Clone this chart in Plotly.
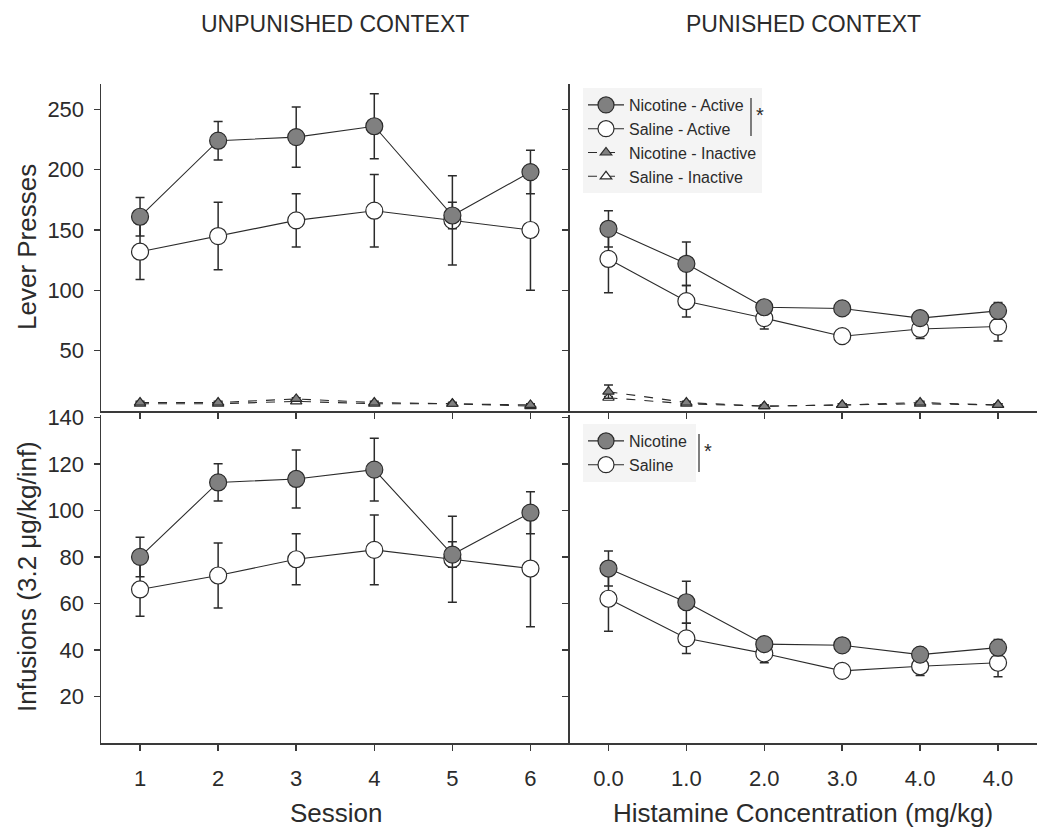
import plotly.graph_objects as go

# ---------------- data ----------------
sessions = [1, 2, 3, 4, 5, 6]
session_labels = ["1", "2", "3", "4", "5", "6"]
conc_pos = [0, 1, 2, 3, 4, 5]
conc_labels = ["0.0", "1.0", "2.0", "3.0", "4.0", "4.0"]

# Lever presses - unpunished context
lp_nic_act_unp = [161, 224, 227, 236, 162, 198]
lp_nic_act_unp_se = [16, 16, 25, 27, 11, 18]
lp_sal_act_unp = [132, 145, 158, 166, 158, 150]
lp_sal_act_unp_se = [23, 28, 22, 30, 37, 50]
lp_nic_inact_unp = [7, 7, 10, 7, 6, 5]
lp_nic_inact_unp_se = [1, 1, 1, 1, 1, 1]
lp_sal_inact_unp = [6, 6, 8, 6, 6, 4]
lp_sal_inact_unp_se = [1, 1, 1, 1, 1, 1]

# Lever presses - punished context
lp_nic_act_pun = [151, 122, 86, 85, 77, 83]
lp_nic_act_pun_se = [15, 18, 4, 3, 3, 7]
lp_sal_act_pun = [126, 91, 77, 62, 68, 70]
lp_sal_act_pun_se = [28, 13, 9, 5, 8, 12]
lp_nic_inact_pun = [16, 7, 4, 5, 7, 5]
lp_nic_inact_pun_se = [5.5, 1, 1, 1, 1, 1]
lp_sal_inact_pun = [11, 6, 4, 5, 6, 5]
lp_sal_inact_pun_se = [1, 1, 1, 1, 1, 1]

# Infusions - unpunished context
inf_nic_unp = [80, 112, 113.5, 117.5, 81, 99]
inf_nic_unp_se = [8.5, 8, 12.5, 13.5, 5.5, 9]
inf_sal_unp = [66, 72, 79, 83, 79, 75]
inf_sal_unp_se = [11.5, 14, 11, 15, 18.5, 25]

# Infusions - punished context
inf_nic_pun = [75, 60.5, 42.5, 42, 38, 41]
inf_nic_pun_se = [7.5, 9, 2, 2, 2, 3.5]
inf_sal_pun = [62, 45, 38.5, 31, 33, 34.5]
inf_sal_pun_se = [14, 6.5, 4, 2.5, 4, 6]

# ---------------- style ----------------
FONT = "Liberation Sans, Arial, sans-serif"
INK = "#2b2b2b"
AX = "#3a3a3a"
GRAY = "#808080"
LEG_BG = "#f4f4f4"
W, H = 1050, 835
CIRC = 17
TRI = 10


def px(x):
    return x / W


def py(y):
    return 1 - y / H


def trace(x, y, se, name, fill, symbol, size, dash, xa, ya, legend, show, rank):
    return go.Scatter(
        x=x, y=y, name=name, mode="lines+markers",
        xaxis=xa, yaxis=ya, legend=legend, showlegend=show, legendrank=rank,
        line=dict(color=INK, width=1.1, dash=dash),
        marker=dict(symbol=symbol, size=size, color=fill,
                    line=dict(color=INK, width=1.2)),
        error_y=dict(type="data", array=se, visible=True,
                     color=INK, thickness=1.5, width=4.5),
    )


fig = go.Figure()

# top-left: lever presses, unpunished
fig.add_trace(trace(sessions, lp_sal_inact_unp, lp_sal_inact_unp_se, "Saline - Inactive", "white", "triangle-up", TRI, "dash", "x", "y", "legend", False, 4))
fig.add_trace(trace(sessions, lp_nic_inact_unp, lp_nic_inact_unp_se, "Nicotine - Inactive", GRAY, "triangle-up", TRI, "dash", "x", "y", "legend", False, 3))
fig.add_trace(trace(sessions, lp_sal_act_unp, lp_sal_act_unp_se, "Saline - Active", "white", "circle", CIRC, "solid", "x", "y", "legend", False, 2))
fig.add_trace(trace(sessions, lp_nic_act_unp, lp_nic_act_unp_se, "Nicotine - Active", GRAY, "circle", CIRC, "solid", "x", "y", "legend", False, 1))

# top-right: lever presses, punished
fig.add_trace(trace(conc_pos, lp_sal_inact_pun, lp_sal_inact_pun_se, "Saline - Inactive", "white", "triangle-up", TRI, "dash", "x2", "y2", "legend", True, 4))
fig.add_trace(trace(conc_pos, lp_nic_inact_pun, lp_nic_inact_pun_se, "Nicotine - Inactive", GRAY, "triangle-up", TRI, "dash", "x2", "y2", "legend", True, 3))
fig.add_trace(trace(conc_pos, lp_sal_act_pun, lp_sal_act_pun_se, "Saline - Active", "white", "circle", CIRC, "solid", "x2", "y2", "legend", True, 2))
fig.add_trace(trace(conc_pos, lp_nic_act_pun, lp_nic_act_pun_se, "Nicotine - Active", GRAY, "circle", CIRC, "solid", "x2", "y2", "legend", True, 1))

# bottom-left: infusions, unpunished
fig.add_trace(trace(sessions, inf_sal_unp, inf_sal_unp_se, "Saline", "white", "circle", CIRC, "solid", "x3", "y3", "legend2", False, 2))
fig.add_trace(trace(sessions, inf_nic_unp, inf_nic_unp_se, "Nicotine", GRAY, "circle", CIRC, "solid", "x3", "y3", "legend2", False, 1))

# bottom-right: infusions, punished
fig.add_trace(trace(conc_pos, inf_sal_pun, inf_sal_pun_se, "Saline", "white", "circle", CIRC, "solid", "x4", "y4", "legend2", True, 2))
fig.add_trace(trace(conc_pos, inf_nic_pun, inf_nic_pun_se, "Nicotine", GRAY, "circle", CIRC, "solid", "x4", "y4", "legend2", True, 1))

xL = [px(101), px(569.5)]
xR = [px(569.5), px(1037)]
yT = [py(411), py(84)]
yB = [py(743), py(415)]

common = dict(showline=True, linecolor=AX, linewidth=1.5, ticks="outside",
              ticklen=6, tickwidth=1.5, tickcolor=AX, showgrid=False,
              zeroline=False, automargin=False,
              tickfont=dict(family=FONT, size=22, color=INK))

LEGEND_COMMON = dict(xanchor="left", yanchor="top", bgcolor="rgba(0,0,0,0)",
                     borderwidth=0, tracegroupgap=0, itemwidth=36,
                     font=dict(family=FONT, size=16, color=INK),
                     traceorder="normal")

fig.update_layout(
    width=W, height=H,
    margin=dict(l=0, r=0, t=0, b=0),
    paper_bgcolor="white", plot_bgcolor="white",
    font=dict(family=FONT, color=INK),
    hovermode=False,
    xaxis=dict(domain=xL, anchor="y", range=[0.5, 6.5], tickvals=sessions,
               showticklabels=False, **common),
    yaxis=dict(domain=yT, anchor="x", range=[0, 271],
               tickvals=[50, 100, 150, 200, 250], ticklabelstandoff=5, **common),
    xaxis2=dict(domain=xR, anchor="y2", range=[-0.5, 5.5], tickvals=conc_pos,
                showticklabels=False, **common),
    yaxis2=dict(domain=yT, anchor="x2", range=[0, 271],
                tickvals=[50, 100, 150, 200, 250], showticklabels=False, **common),
    xaxis3=dict(domain=xL, anchor="y3", range=[0.5, 6.5], tickvals=sessions,
                ticktext=session_labels, ticklabelstandoff=9, **common),
    yaxis3=dict(domain=yB, anchor="x3", range=[0, 141],
                tickvals=[20, 40, 60, 80, 100, 120, 140], ticklabelstandoff=5, **common),
    xaxis4=dict(domain=xR, anchor="y4", range=[-0.5, 5.5], tickvals=conc_pos,
                ticktext=conc_labels, ticklabelstandoff=9, **common),
    yaxis4=dict(domain=yB, anchor="x4", range=[0, 141],
                tickvals=[20, 40, 60, 80, 100, 120, 140], showticklabels=False, **common),
    legend=dict(x=px(583), y=py(88), **LEGEND_COMMON),
    legend2=dict(x=px(583), y=py(424), **LEGEND_COMMON),
)

# legend background panels (drawn beneath everything)
fig.add_shape(type="rect", xref="paper", yref="paper", layer="below",
              x0=px(583), x1=px(762), y0=py(193), y1=py(88),
              line=dict(width=0), fillcolor=LEG_BG)
fig.add_shape(type="rect", xref="paper", yref="paper", layer="below",
              x0=px(583), x1=px(696), y0=py(482), y1=py(424),
              line=dict(width=0), fillcolor=LEG_BG)

# significance brackets (group the two active / two infusion entries)
fig.add_shape(type="line", xref="paper", yref="paper",
              x0=px(751), x1=px(751), y0=py(98), y1=py(136),
              line=dict(color=INK, width=1.2))
fig.add_shape(type="line", xref="paper", yref="paper",
              x0=px(699), x1=px(699), y0=py(434), y1=py(472),
              line=dict(color=INK, width=1.2))
fig.add_annotation(text="*", x=px(754), y=py(115), xref="paper", yref="paper",
                   xanchor="left", yanchor="middle", showarrow=False,
                   font=dict(family=FONT, size=20, color=INK))
fig.add_annotation(text="*", x=px(702), y=py(451), xref="paper", yref="paper",
                   xanchor="left", yanchor="middle", showarrow=False,
                   font=dict(family=FONT, size=20, color=INK))

# panel titles
fig.add_annotation(text="UNPUNISHED CONTEXT", x=px(335), y=py(24), xref="paper", yref="paper",
                   xanchor="center", yanchor="middle", showarrow=False,
                   font=dict(family=FONT, size=23, color=INK))
fig.add_annotation(text="PUNISHED CONTEXT", x=px(803), y=py(24), xref="paper", yref="paper",
                   xanchor="center", yanchor="middle", showarrow=False,
                   font=dict(family=FONT, size=23, color=INK))

# axis titles
TF = dict(family=FONT, size=26, color=INK)
fig.add_annotation(text="Lever Presses", x=px(27), y=py(247), xref="paper", yref="paper",
                   textangle=-90, xanchor="center", yanchor="middle", showarrow=False, font=TF)
fig.add_annotation(text="Infusions (3.2 μg/kg/inf)", x=px(27), y=py(577), xref="paper", yref="paper",
                   textangle=-90, xanchor="center", yanchor="middle", showarrow=False, font=TF)
fig.add_annotation(text="Session", x=px(336), y=py(813), xref="paper", yref="paper",
                   xanchor="center", yanchor="middle", showarrow=False, font=TF)
fig.add_annotation(text="Histamine Concentration (mg/kg)", x=px(803), y=py(813), xref="paper", yref="paper",
                   xanchor="center", yanchor="middle", showarrow=False, font=TF)

fig.write_html("out.html", config={"displayModeBar": False, "staticPlot": True},
               post_script="document.body.style.margin='0px';")
